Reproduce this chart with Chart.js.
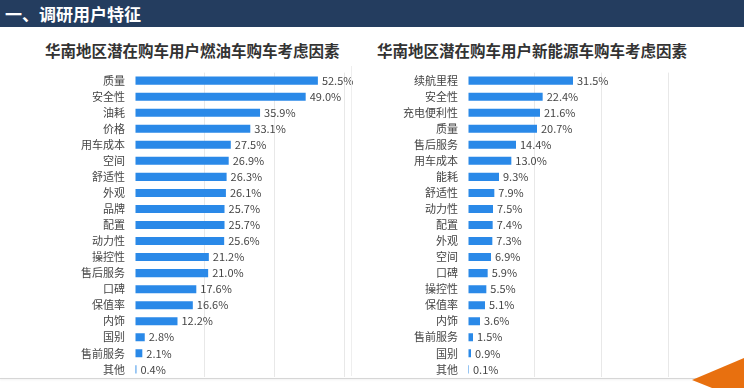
<!DOCTYPE html>
<html lang="zh">
<head>
  <meta charset="UTF-8" />
  <title>调研用户特征</title>
  <script src="https://cdn.jsdelivr.net/npm/chart.js"></script>
  <style>
    body { margin: 0; width: 744px; height: 388px; overflow: hidden; background: #fff; position: relative;
           font-family: "Noto Sans CJK SC", "Noto Sans", sans-serif; }
    .header { position: absolute; left: 0; top: 0; width: 744px; height: 27px; background: #243d5f;
              color: #fff; font-weight: bold; font-size: 17px; line-height: 27px; padding-left: 5px; box-sizing: border-box; }
    .title { position: absolute; top: 39px; font-weight: bold; font-size: 15.5px; color: #333; white-space: nowrap; }
    .box { position: absolute; top: 56px; width: 372px; height: 338px; }
    .divider { position: absolute; left: 351px; top: 66px; width: 1px; height: 310px; background: #eeeeee; }
    .footline { position: absolute; left: 0; top: 378px; width: 700px; height: 1px; background: #d6d6d6;
                box-shadow: 0 1px 2px rgba(0,0,0,0.08); }
    .corner { position: absolute; left: 690px; top: 356px; width: 54px; height: 32px; background: #e8700f;
              clip-path: polygon(2px 24px, 54px 2px, 54px 32px, 22px 32px); }
  </style>
</head>
<body>
  <div class="header">一、调研用户特征</div>
  <div class="title" style="left:45px">华南地区潜在购车用户燃油车购车考虑因素</div>
  <div class="title" style="left:377px">华南地区潜在购车用户新能源车购车考虑因素</div>
  <div class="box" style="left:0"><canvas id="fuelChart"></canvas></div>
  <div class="box" style="left:372px"><canvas id="evChart"></canvas></div>
  <div class="divider"></div>
  <div class="footline"></div>
  <div class="corner"></div>

  <script>
    // 燃油车购车考虑因素
    const fuelLabels = ['质量', '安全性', '油耗', '价格', '用车成本', '空间', '舒适性', '外观', '品牌', '配置',
                        '动力性', '操控性', '售后服务', '口碑', '保值率', '内饰', '国别', '售前服务', '其他'];
    const fuelValues = [52.5, 49.0, 35.9, 33.1, 27.5, 26.9, 26.3, 26.1, 25.7, 25.7,
                        25.6, 21.2, 21.0, 17.6, 16.6, 12.2, 2.8, 2.1, 0.4];

    // 新能源车购车考虑因素
    const evLabels = ['续航里程', '安全性', '充电便利性', '质量', '售后服务', '用车成本', '能耗', '舒适性', '动力性', '配置',
                      '外观', '空间', '口碑', '操控性', '保值率', '内饰', '售前服务', '国别', '其他'];
    const evValues = [31.5, 22.4, 21.6, 20.7, 14.4, 13.0, 9.3, 7.9, 7.5, 7.4,
                      7.3, 6.9, 5.9, 5.5, 5.1, 3.6, 1.5, 0.9, 0.1];

    const xTicks = [0, 20, 40, 60];
    const barColor = '#2a89e8';
    const textColor = '#454545';
    const fontFamily = '"Noto Sans CJK SC", "Noto Sans", sans-serif';

    const valueLabels = {
      id: 'valueLabels',
      afterDatasetsDraw(chart) {
        const ctx = chart.ctx;
        ctx.save();
        ctx.font = '11px ' + fontFamily;
        ctx.fillStyle = textColor;
        ctx.textAlign = 'left';
        ctx.textBaseline = 'middle';
        chart.getDatasetMeta(0).data.forEach((bar, i) => {
          const v = chart.data.datasets[0].data[i];
          ctx.fillText(v.toFixed(1) + '%', bar.x + 4, bar.y);
        });
        ctx.restore();
      }
    };

    function makeChart(id, labels, values, axisWidth, padRight) {
      return new Chart(document.getElementById(id), {
        type: 'bar',
        data: {
          labels: labels,
          datasets: [{
            data: values,
            backgroundColor: barColor,
            categoryPercentage: 1,
            barPercentage: 0.5,
            minBarLength: 1
          }]
        },
        options: {
          indexAxis: 'y',
          responsive: true,
          maintainAspectRatio: false,
          animation: false,
          layout: { padding: { top: 0, bottom: 0, right: padRight, left: 0 } },
          plugins: { legend: { display: false }, tooltip: { enabled: false } },
          scales: {
            x: {
              min: xTicks[0],
              max: xTicks[xTicks.length - 1],
              afterBuildTicks: s => { s.ticks = xTicks.map(v => ({ value: v })); },
              ticks: { display: false },
              border: { display: false },
              grid: {
                drawTicks: false,
                color: c => c.tick && c.tick.value === 0 ? 'rgba(0,0,0,0)' : '#e8e8e8'
              },
              afterFit: s => { s.height = 0; }
            },
            y: {
              border: { display: false },
              grid: { display: false, drawTicks: false },
              ticks: { autoSkip: false, padding: 10, color: textColor, font: { size: 11, family: fontFamily } },
              afterFit: s => { s.width = axisWidth; }
            }
          }
        },
        plugins: [valueLabels]
      });
    }

    makeChart('fuelChart', fuelLabels, fuelValues, 135, 28);
    makeChart('evChart', evLabels, evValues, 96, 76);
  </script>
</body>
</html>
